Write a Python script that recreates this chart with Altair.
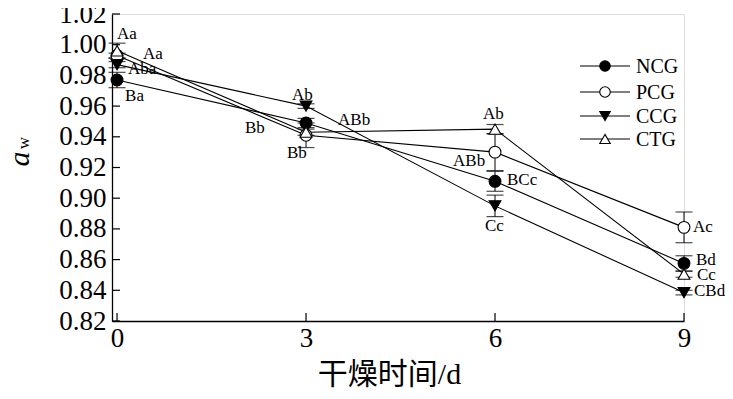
import altair as alt
import pandas as pd

# ---- data ----
days = [0, 3, 6, 9]
series = ["NCG", "PCG", "CCG", "CTG"]
ncg = [0.977, 0.949, 0.911, 0.8575]
pcg = [0.993, 0.941, 0.930, 0.881]
ccg = [0.987, 0.960, 0.895, 0.8385]
ctg = [0.996, 0.943, 0.945, 0.8505]
ncg_err = [0.005, 0.003, 0.0065, 0.005]
pcg_err = [0.0015, 0.008, 0.012, 0.010]
ccg_err = [0.002, 0.0015, 0.007, 0.0015]
ctg_err = [0.005, 0.002, 0.003, 0.002]
ncg_sig = ["Ba", "ABb", "BCc", "Bd"]
pcg_sig = ["Aa", "Bb", "ABb", "Ac"]
ccg_sig = ["Aba", "Ab", "Cc", "CBd"]
ctg_sig = ["Aa", "Bb", "Ab", "Cc"]
y_ticks = [0.82, 0.84, 0.86, 0.88, 0.90, 0.92, 0.94, 0.96, 0.98, 1.00, 1.02]

# ---- layout / style ----
W, H = 572, 307
XDOM = [-0.08, 9.0]
YDOM = [0.82, 1.02]
SERIF = "Liberation Serif"
shapes = ["circle", "circle", "triangle-down", "triangle-up"]
fills = ["black", "white", "black", "white"]
# label offsets in pixels (dx, dy) from each point, per series, per day
label_off = {
    "NCG": [(8, 16), (32, -3), (12, -1), (12, -3)],
    "PCG": [(26, -1), (-19, 18), (-42, 9), (9, 0)],
    "CCG": [(11, 4), (-14, -11), (-10, 20), (10, -2)],
    "CTG": [(0, -17), (-61, -4), (-12, -15), (13, 1)],
}

vals = {"NCG": ncg, "PCG": pcg, "CCG": ccg, "CTG": ctg}
errs = {"NCG": ncg_err, "PCG": pcg_err, "CCG": ccg_err, "CTG": ctg_err}
sigs = {"NCG": ncg_sig, "PCG": pcg_sig, "CCG": ccg_sig, "CTG": ctg_sig}

xpp = (XDOM[1] - XDOM[0]) / W
ypp = (YDOM[1] - YDOM[0]) / H
rows = []
for s in series:
    for i, d in enumerate(days):
        v, e = vals[s][i], errs[s][i]
        dx, dy = label_off[s][i]
        rows.append(dict(series=s, day=d, v=v, lo=v - e, hi=v + e, sig=sigs[s][i],
                         lx=d + dx * xpp, ly=v - dy * ypp))
df = pd.DataFrame(rows)

xs = alt.Scale(domain=XDOM, nice=False, zero=False)
ys = alt.Scale(domain=YDOM, nice=False, zero=False)

xaxis = alt.Axis(values=days, format="d", ticks=False, grid=False, labelFont=SERIF, labelFontSize=27,
                 labelColor="black", domainColor="black", domainWidth=1.3, labelPadding=4,
                 labelOverlap=False, labelFlush=False,
                 title="干燥时间/d", titleFont="Liberation Serif, Noto Sans CJK SC",
                 titleFontSize=30, titleFontWeight="normal", titleColor="black", titlePadding=8,
                 titleX=277, titleAlign="center")
yaxis = alt.Axis(values=y_ticks, ticks=False, grid=False, labelFont=SERIF, labelFontSize=27,
                 labelColor="black", domainColor="black", domainWidth=1.3, labelPadding=6,
                 labelOverlap=False, labelFlush=False,
                 format=".2f", title=None)


def X(f):
    return alt.X(f, scale=xs, axis=xaxis)


def Y(f):
    return alt.Y(f, scale=ys, axis=yaxis)


base = alt.Chart(df)

err_rule = base.mark_rule(color="black", strokeWidth=1).encode(
    x=X("day:Q"), y=Y("lo:Q"), y2="hi:Q")
cap_lo = base.mark_tick(orient="horizontal", size=17, thickness=1.2, color="black").encode(
    x=X("day:Q"), y=Y("lo:Q"))
cap_hi = base.mark_tick(orient="horizontal", size=17, thickness=1.2, color="black").encode(
    x=X("day:Q"), y=Y("hi:Q"))

lines = base.mark_line(color="black", strokeWidth=1.1).encode(
    x=X("day:Q"), y=Y("v:Q"), detail="series:N", order="day:Q")

pts = base.mark_point(filled=True, size=140, stroke="black", strokeWidth=1.1, opacity=1).encode(
    x=X("day:Q"), y=Y("v:Q"),
    shape=alt.Shape("series:N", scale=alt.Scale(domain=series, range=shapes), legend=None),
    fill=alt.Fill("series:N", scale=alt.Scale(domain=series, range=fills), legend=None),
)

labels = base.mark_text(font=SERIF, fontSize=17, align="left", baseline="middle", color="black").encode(
    x=X("lx:Q"), y=Y("ly:Q"), text="sig:N")

# inward axis ticks
ytick_df = pd.DataFrame({"t": y_ticks})
yt = alt.Chart(ytick_df).mark_rule(color="black", strokeWidth=1.2).encode(
    y=Y("t:Q"), x=alt.value(0), x2=alt.value(8))
xtick_df = pd.DataFrame({"t": days})
xt = alt.Chart(xtick_df).mark_rule(color="black", strokeWidth=1.2).encode(
    x=X("t:Q"), y=alt.value(H), y2=alt.value(H - 8))

# y title a_w
one = pd.DataFrame({"k": [0]})
ytitle_a = alt.Chart(one).mark_text(text="a", font=SERIF, fontSize=30, fontStyle="italic",
                                    angle=270, baseline="middle", align="center", color="black").encode(
    x=alt.value(-92), y=alt.value(145))
ytitle_w = alt.Chart(one).mark_text(text="w", font=SERIF, fontSize=17,
                                    angle=270, baseline="middle", align="center", color="black").encode(
    x=alt.value(-88), y=alt.value(129))

# manual legend
leg_layers = []
leg_y = [52, 78, 102, 125]
for i, s in enumerate(series):
    leg_layers.append(alt.Chart(one).mark_rule(color="black", strokeWidth=1.1).encode(
        x=alt.value(468), x2=alt.value(518), y=alt.value(leg_y[i])))
    leg_layers.append(alt.Chart(one).mark_point(shape=shapes[i], fill=fills[i], filled=True, size=110,
                                                stroke="black", strokeWidth=1.1, opacity=1).encode(
        x=alt.value(493), y=alt.value(leg_y[i])))
    leg_layers.append(alt.Chart(one).mark_text(text=s, font=SERIF, fontSize=20, align="left",
                                               baseline="middle", color="black").encode(
        x=alt.value(524), y=alt.value(leg_y[i] + 1)))

chart = alt.layer(err_rule, cap_lo, cap_hi, lines, pts, labels, yt, xt, ytitle_a, ytitle_w,
                  *leg_layers).properties(
    width=W, height=H,
    autosize=alt.AutoSizeParams(type="none"),
    padding={"left": 104, "top": 6, "right": 41, "bottom": 70},
).configure_view(stroke=None).configure(background="white")

chart.save("out.html", embed_options={"renderer": "svg", "actions": False})
